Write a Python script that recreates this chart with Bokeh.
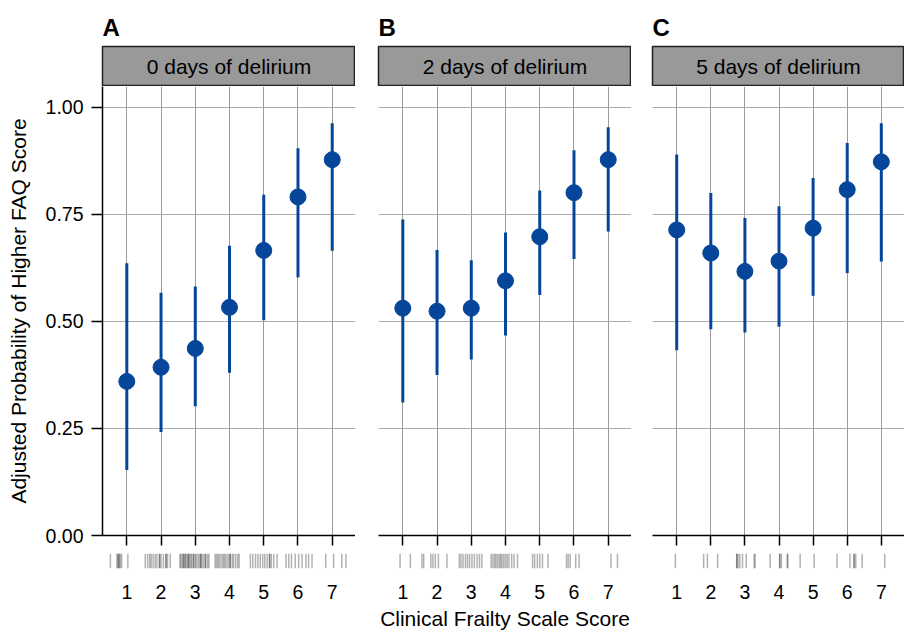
from bokeh.plotting import figure
from bokeh.models import Range1d, FixedTicker, NumeralTickFormatter, ColumnDataSource
from bokeh.layouts import column, row
from bokeh.embed import file_html
from bokeh.resources import INLINE
from bokeh.core.properties import value

# ---------------- data ----------------
cfs = [1, 2, 3, 4, 5, 6, 7]
cfs_labels = ["1", "2", "3", "4", "5", "6", "7"]
panel_titles = ["0 days of delirium", "2 days of delirium", "5 days of delirium"]
panel_letters = ["A", "B", "C"]
y_ticks = [0.0, 0.25, 0.5, 0.75, 1.0]

prob_d0 = [0.360, 0.393, 0.437, 0.533, 0.666, 0.791, 0.878]
lower_d0 = [0.153, 0.242, 0.302, 0.380, 0.503, 0.603, 0.665]
upper_d0 = [0.636, 0.567, 0.582, 0.677, 0.796, 0.905, 0.963]

prob_d2 = [0.531, 0.524, 0.531, 0.595, 0.698, 0.801, 0.878]
lower_d2 = [0.311, 0.375, 0.411, 0.467, 0.562, 0.646, 0.710]
upper_d2 = [0.738, 0.667, 0.643, 0.708, 0.806, 0.900, 0.954]

prob_d5 = [0.714, 0.660, 0.617, 0.641, 0.718, 0.808, 0.873]
lower_d5 = [0.433, 0.482, 0.474, 0.488, 0.560, 0.613, 0.640]
upper_d5 = [0.890, 0.800, 0.742, 0.769, 0.835, 0.917, 0.963]

# observed (jittered) frailty scores shown as rug under each panel
rug_d0 = [0.52, 0.71, 0.74, 0.76, 0.78, 0.81, 0.85, 1.03,
          1.54, 1.61, 1.67, 1.71, 1.77, 1.83, 1.88, 1.95, 1.96, 2.00, 2.07, 2.14, 2.15, 2.19, 2.27,
          2.55, 2.58, 2.62, 2.66, 2.66, 2.70, 2.72, 2.76, 2.80, 2.80, 2.83, 2.87, 2.90, 2.95, 2.95,
          3.00, 3.03, 3.08, 3.12, 3.16, 3.16, 3.20, 3.25, 3.30, 3.30, 3.36, 3.40,
          3.58, 3.62, 3.66, 3.70, 3.75, 3.80, 3.84, 3.88, 3.93, 3.98, 4.02, 4.02, 4.08, 4.12, 4.18, 4.24, 4.28,
          4.61, 4.68, 4.76, 4.83, 4.90, 4.97, 5.03, 5.10, 5.17, 5.17, 5.22, 5.29, 5.39,
          5.65, 5.73, 5.81, 5.92, 6.02, 6.12, 6.23, 6.31, 6.41,
          6.81, 7.04, 7.28, 7.40]
rug_d2 = [0.92, 1.22, 1.56, 1.61, 1.82, 1.88, 1.95, 2.04, 2.29,
          2.65, 2.70, 2.76, 2.83, 2.89, 2.95, 3.02, 3.09, 3.17, 3.24, 3.31,
          3.58, 3.63, 3.68, 3.72, 3.77, 3.82, 3.86, 3.90, 3.95, 4.00, 4.05, 4.10, 4.18, 4.25, 4.35,
          4.79, 4.85, 4.93, 5.00, 5.08, 5.24,
          5.78, 5.83, 5.89, 6.05, 6.15,
          7.08, 7.27]
rug_d5 = [0.96, 1.79, 1.90, 2.20, 2.76, 2.76, 2.80, 2.85, 2.93, 3.04, 3.27, 3.30,
          3.74, 4.02, 4.02, 4.07, 4.24, 4.26, 4.62, 5.03, 5.70, 6.08, 6.20, 6.20, 6.25, 6.44, 7.10]

probs = [prob_d0, prob_d2, prob_d5]
lowers = [lower_d0, lower_d2, lower_d5]
uppers = [upper_d0, upper_d2, upper_d5]
rugs = [rug_d0, rug_d2, rug_d5]

# ---------------- styling ----------------
FONT = "Liberation Sans"
BLUE = "#06469A"
X0, X1 = 0.29, 7.68
Y_TOP = 1.049

left_borders = [102, 23, 21]
frame_widths = [253, 253, 252]

strips, mains, rugfigs = [], [], []
for i in range(3):
    lb = left_borders[i]
    w = lb + frame_widths[i]

    # ---- strip with panel letter ----
    s = figure(width=w, height=86, x_range=Range1d(0, 1), y_range=Range1d(0, 1),
               output_backend="svg", toolbar_location=None,
               min_border_left=lb, min_border_right=0, min_border_top=46, min_border_bottom=0,
               title=panel_letters[i])
    s.axis.visible = False
    s.grid.visible = False
    s.background_fill_color = "#999999"
    s.outline_line_color = "#222222"
    s.outline_line_width = 1.5
    s.title.text_font = FONT
    s.title.text_font_size = "24px"
    s.title.text_font_style = "bold"
    s.title.text_color = "black"
    s.title.align = "left"
    s.title.offset = 0
    s.title.standoff = 11
    s.text(x=[0.5], y=[0.5], text=[panel_titles[i]], text_align="center",
           text_baseline="middle", text_font=value(FONT), text_font_size="21px",
           text_color="black")
    strips.append(s)

    # ---- main panel ----
    p = figure(width=w, height=462, x_range=Range1d(X0, X1), y_range=Range1d(0, Y_TOP),
               output_backend="svg", toolbar_location=None,
               min_border_left=lb, min_border_right=0, min_border_top=0, min_border_bottom=13)
    p.outline_line_color = None
    p.xgrid.ticker = FixedTicker(ticks=cfs)
    p.ygrid.ticker = FixedTicker(ticks=y_ticks)
    p.xgrid.grid_line_color = "#9a9a9a"
    p.ygrid.grid_line_color = "#ababab"
    p.xgrid.grid_line_width = 1
    p.ygrid.grid_line_width = 1

    xa = p.xaxis[0]
    xa.ticker = FixedTicker(ticks=cfs)
    xa.axis_line_color = "black"
    xa.axis_line_width = 1.5
    xa.major_tick_line_color = "black"
    xa.major_tick_line_width = 1.5
    xa.major_tick_out = 10
    xa.major_tick_in = 0
    xa.minor_tick_line_color = None
    # tick labels are drawn under the rug instead
    xa.major_label_text_color = None
    xa.major_label_text_font_size = "1px"
    xa.major_label_standoff = 0

    if i == 0:
        ya = p.yaxis[0]
        ya.ticker = FixedTicker(ticks=y_ticks)
        ya.formatter = NumeralTickFormatter(format="0.00")
        ya.axis_line_color = "black"
        ya.axis_line_width = 1.5
        ya.major_tick_line_width = 1.5
        ya.major_tick_out = 11
        ya.major_tick_in = 0
        ya.minor_tick_line_color = None
        ya.major_label_text_font = FONT
        ya.major_label_text_font_size = "19.5px"
        ya.major_label_text_color = "black"
        ya.major_label_standoff = 8
        ya.axis_label = "Adjusted Probability of Higher FAQ Score"
        ya.axis_label_text_font = FONT
        ya.axis_label_text_font_size = "21px"
        ya.axis_label_text_font_style = "normal"
        ya.axis_label_text_color = "black"
        ya.axis_label_standoff = 13
    else:
        p.yaxis.visible = False

    src = ColumnDataSource(dict(x=cfs, y=probs[i], lo=lowers[i], hi=uppers[i]))
    p.segment(x0="x", y0="lo", x1="x", y1="hi", source=src, line_color=BLUE, line_width=3)
    p.scatter(x="x", y="y", source=src, size=16, fill_color=BLUE, line_color=BLUE)
    mains.append(p)

    # ---- rug + tick labels ----
    r = figure(width=w, height=84, x_range=Range1d(X0, X1), y_range=Range1d(0, 1),
               output_backend="svg", toolbar_location=None,
               min_border_left=lb, min_border_right=0, min_border_top=5, min_border_bottom=62)
    r.outline_line_color = None
    r.grid.visible = False
    r.yaxis.visible = False
    rx = r.xaxis[0]
    rx.ticker = FixedTicker(ticks=cfs)
    rx.major_label_overrides = {c: l for c, l in zip(cfs, cfs_labels)}
    rx.axis_line_color = None
    rx.major_tick_line_color = None
    rx.minor_tick_line_color = None
    rx.major_label_text_font = FONT
    rx.major_label_text_font_size = "19.5px"
    rx.major_label_text_color = "black"
    rx.major_label_standoff = 10
    if i == 1:
        rx.axis_label = "Clinical Frailty Scale Score"
        rx.axis_label_text_font = FONT
        rx.axis_label_text_font_size = "21px"
        rx.axis_label_text_font_style = "normal"
        rx.axis_label_text_color = "black"
        rx.axis_label_standoff = 5
    rsrc = ColumnDataSource(dict(x=rugs[i]))
    r.segment(x0="x", y0=0, x1="x", y1=1, source=rsrc, line_color="black",
              line_alpha=0.3, line_width=1.5)
    rugfigs.append(r)

layout = column(row(*strips), row(*mains), row(*rugfigs))
open("out.html", "w").write(file_html(layout, INLINE))
